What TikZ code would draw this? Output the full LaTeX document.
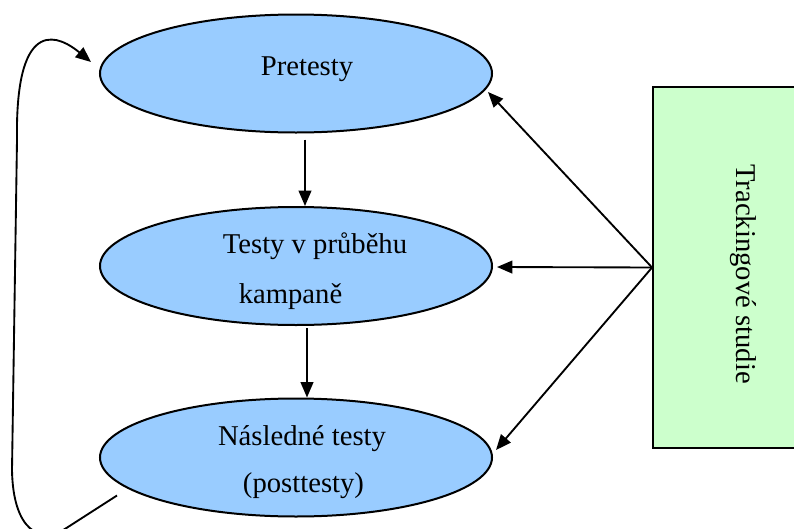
\documentclass[tikz,border=0pt]{standalone}
\usepackage{fontspec}
\setmainfont{Liberation Serif}
\usetikzlibrary{arrows.meta,calc,shapes.geometric}
\definecolor{stageblue}{HTML}{99CCFF}
\definecolor{trackgreen}{HTML}{CCFFCC}
\tikzset{
  stage/.style={ellipse, draw=black, line width=1.5pt, fill=stageblue,
    minimum width=294pt, minimum height=88.5pt, inner sep=0pt},
  trackbox/.style={rectangle, draw=black, line width=1.4pt, fill=trackgreen,
    minimum width=110.25pt, minimum height=270.75pt, inner sep=0pt},
  lbl/.style={anchor=base, inner sep=0pt, font=\fontsize{21.5}{26}\selectfont},
  link/.style={draw=black, line width=1.4pt, -{Triangle[length=11.5pt,width=9.5pt]}}
}
\begin{document}
\begin{tikzpicture}[x=0.75pt,y=-0.75pt]
\useasboundingbox (0,0) rectangle (794,529);
\clip (0,0) rectangle (794,529);

% the three testing stages
\node[stage] (pre)  at (296,73.5) {};
\node[stage] (mid)  at (296,266)  {};
\node[stage] (post) at (296,457.5) {};

\node[lbl] (preA)  at (307,75)    {Pretesty};
\node[lbl] (midA)  at (315,253)   {Testy v průběhu};
\node[lbl] (midB)  at (290.5,303) {kampaně};
\node[lbl] (postA) at (302,445)   {Následné testy};
\node[lbl] (postB) at (303.5,492) {(posttesty)};

% tracking studies box on the right
\node[trackbox] (track) at (726.5,267.5) {};
\node[lbl, rotate=-90] (trackA) at (736,274) {Trackingové studie};

% downward flow between stages
\draw[link] ($(pre.south)+(9,6)$) -- ($(mid.north)+(9,0)$);
\draw[link] ($(mid.south)+(11,2)$) -- ($(post.north)+(11,0)$);

% tracking feeds every stage
\coordinate (t1) at ($(pre.center)+(192,18.5)$);
\coordinate (t2) at ($(mid.east)+(4,1)$);
\coordinate (t3) at ($(post.east)+(3,-7.5)$);
\draw[link] (track.west) -- (t1);
\draw[link] (track.west) -- (t2);
\draw[link] (track.west) -- (t3);

% feedback loop from post-tests back to pre-tests
\coordinate (loopA) at ($(post.center)+(-179,38)$);
\coordinate (loopB) at ($(pre.west)+(-8,-11.5)$);
\draw[link] (loopA) -- (68,527)
  .. controls (40,546) and (13,530) .. (12,470)
  -- (17,140)
  .. controls (15,10) and (62,38) .. (loopB);
\end{tikzpicture}
\end{document}
